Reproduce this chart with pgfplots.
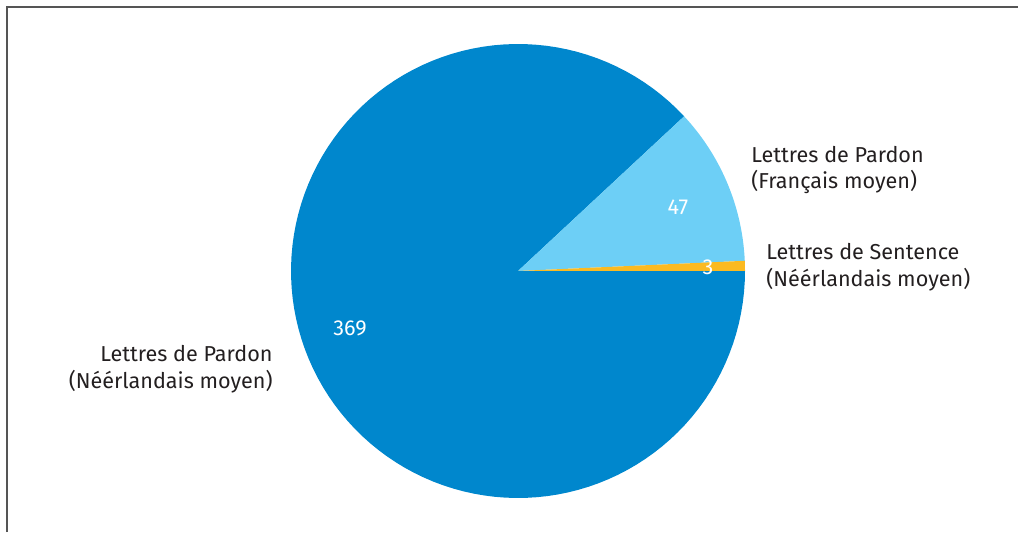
\documentclass[border=0pt]{standalone}
\usepackage{fontspec}
\setmainfont{Fira Sans}
\usepackage{pgfplots}
\usepackage{pgfplotstable}
\pgfplotsset{compat=1.18}
\definecolor{darkblue}{RGB}{0,135,205}
\definecolor{lightblue}{RGB}{109,207,246}
\definecolor{pieyellow}{RGB}{251,186,33}
\definecolor{txt}{RGB}{35,31,32}
\definecolor{frame}{RGB}{85,85,85}
\pgfplotstableread{
name value
sentence 3
pardonfr 47
pardonnl 369
}\piedata
\pgfplotstablegetelem{0}{value}\of\piedata \let\va\pgfplotsretval
\pgfplotstablegetelem{1}{value}\of\piedata \let\vb\pgfplotsretval
\pgfplotstablegetelem{2}{value}\of\piedata \let\vc\pgfplotsretval
\pgfmathsetmacro{\tot}{\va+\vb+\vc}
\pgfmathsetmacro{\aA}{\va/\tot*360}
\pgfmathsetmacro{\aB}{(\va+\vb)/\tot*360}
\tikzset{lbl/.style={font=\fontsize{10.8}{13.3}\selectfont, text=txt, inner sep=2pt}}
\begin{document}
\begin{tikzpicture}
\begin{axis}[
  scale only axis, width=513.5pt, height=266pt,
  xmin=0, xmax=1027, ymin=0, ymax=532, y dir=reverse,
  axis lines=none, clip=false,
  /pgf/number format/assume math mode=true,
]
\path (axis cs:0,0) rectangle (axis cs:1027,532);
\addplot[fill=darkblue, draw=none, domain=\aB:360, samples=120]
  ({518+227*cos(x)},{271-227*sin(x)}) -- (axis cs:518,271) -- cycle;
\addplot[fill=lightblue, draw=none, domain=\aA:\aB, samples=40]
  ({518+227*cos(x)},{271-227*sin(x)}) -- (axis cs:518,271) -- cycle;
\addplot[fill=pieyellow, draw=none, domain=0:\aA, samples=5]
  ({518+227*cos(x)},{271-227*sin(x)}) -- (axis cs:518,271) -- cycle;
\draw[frame, line width=1pt] (axis cs:6.5,532) -- (axis cs:6.5,7.5) -- (axis cs:1018,7.5);
\node[lbl, text=white] at (axis cs:678,207) {\pgfmathprintnumber{\vb}};
\node[lbl, text=white] at (axis cs:708,267) {\pgfmathprintnumber{\va}};
\node[lbl, text=white] at (axis cs:350,328) {\pgfmathprintnumber{\vc}};
\node[lbl, anchor=west, align=left] at (axis cs:747,170) {Lettres de Pardon\\(Français moyen)};
\node[lbl, anchor=west, align=left] at (axis cs:762,267) {Lettres de Sentence\\(Néérlandais moyen)};
\node[lbl, anchor=east, align=right] at (axis cs:277,369) {Lettres de Pardon\\(Néérlandais moyen)};
\end{axis}
\end{tikzpicture}
\end{document}
